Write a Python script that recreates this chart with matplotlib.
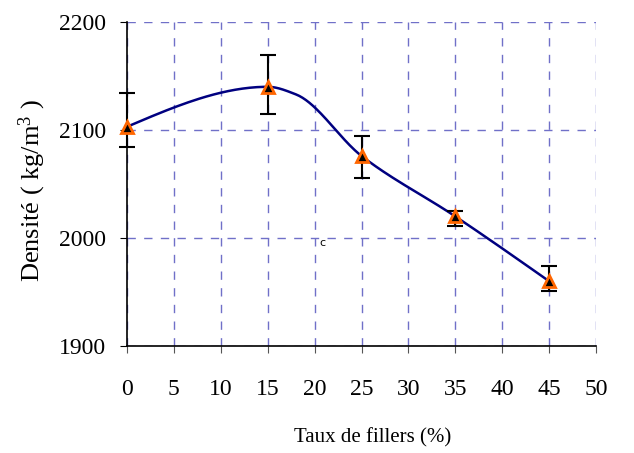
import numpy as np
import matplotlib
matplotlib.use("Agg")
import matplotlib.pyplot as plt

plt.rcParams['font.family'] = ['Liberation Serif', 'DejaVu Serif']
plt.rcParams['mathtext.fontset'] = 'custom'
plt.rcParams['mathtext.rm'] = 'Liberation Serif'

# measured densities with their error bar limits
taux = [0, 15, 25, 35, 45]
densite = [2103, 2140, 2076, 2020, 1960]
err_haut = [2134, 2169, 2094, 2025, 1974]
err_bas = [2084, 2115, 2056, 2011, 1951]

# points of the smoothed trend line
taux_courbe = [0, 15, 18, 25, 35, 45]
densite_courbe = [2103, 2140, 2133, 2076, 2020, 1960]

x_ticks = list(range(0, 51, 5))
y_ticks = [1900, 2000, 2100, 2200]


def lissage(xs, ys, n=40):
    # monotone cubic Hermite through the trend points, natural ends
    x = np.asarray(xs, float)
    y = np.asarray(ys, float)
    h = np.diff(x)
    d = np.diff(y) / h
    m = np.zeros_like(y)
    for k in range(1, len(x) - 1):
        if d[k - 1] * d[k] > 0:
            w1 = 2 * h[k] + h[k - 1]
            w2 = h[k] + 2 * h[k - 1]
            m[k] = (w1 + w2) / (w1 / d[k - 1] + w2 / d[k])
    m[0] = (3 * d[0] - m[1]) / 2
    m[-1] = (3 * d[-1] - m[-2]) / 2
    out_x, out_y = [], []
    t = np.linspace(0, 1, n)
    h00 = 2 * t ** 3 - 3 * t ** 2 + 1
    h10 = t ** 3 - 2 * t ** 2 + t
    h01 = -2 * t ** 3 + 3 * t ** 2
    h11 = t ** 3 - t ** 2
    for k in range(len(h)):
        out_x.extend(x[k] + t * h[k])
        out_y.extend(h00 * y[k] + h10 * h[k] * m[k] + h01 * y[k + 1] + h11 * h[k] * m[k + 1])
    return out_x, out_y


fig = plt.figure(figsize=(6.34, 4.53), dpi=100)
ax = fig.add_axes([127 / 634, 1 - 346 / 453, 469 / 634, 324 / 453])

cx, cy = lissage(taux_courbe, densite_courbe)
ax.plot(cx, cy, color='#000080', lw=1.8, zorder=3)

yerr = [np.array(densite) - np.array(err_bas), np.array(err_haut) - np.array(densite)]
eb = ax.errorbar(taux, densite, yerr=yerr, fmt='none', ecolor='black',
                 elinewidth=1.5, capsize=6, capthick=1.5, zorder=4)
for artist in eb.lines[1] + eb.lines[2]:
    artist.set_clip_on(False)
ax.plot(taux, densite, linestyle='none', marker='^', markersize=9,
        markerfacecolor='black', markeredgecolor='#ff6600', markeredgewidth=2,
        zorder=5, clip_on=False)

ax.set_xlim(0, 50)
ax.set_ylim(1900, 2200)
ax.set_xticks(x_ticks)
ax.set_yticks(y_ticks)
ax.grid(True, color='#7070c8', linestyle=(0, (6, 6)), linewidth=1)
ax.set_axisbelow(True)

for side in ('top', 'right'):
    ax.spines[side].set_visible(False)
for side in ('left', 'bottom'):
    ax.spines[side].set_color('black')
    ax.spines[side].set_linewidth(1.2)

ax.tick_params(axis='x', direction='out', length=5, pad=19, labelsize=17, color='#555555')
ax.tick_params(axis='y', direction='out', length=5, pad=10, labelsize=17)

ax.set_ylabel('Densité ( kg/m$\\mathregular{^3}$ )', fontsize=19)
ax.yaxis.set_label_coords(-0.168, 0.48)
fig.text(373 / 634, 1 - 438 / 453, 'Taux de fillers (%)', fontsize=15,
         ha='center', va='center')

ax.text(20.8, 1995, 'c', fontsize=8, family='DejaVu Sans', ha='center', va='center')

fig.savefig('out.png', dpi=100)
